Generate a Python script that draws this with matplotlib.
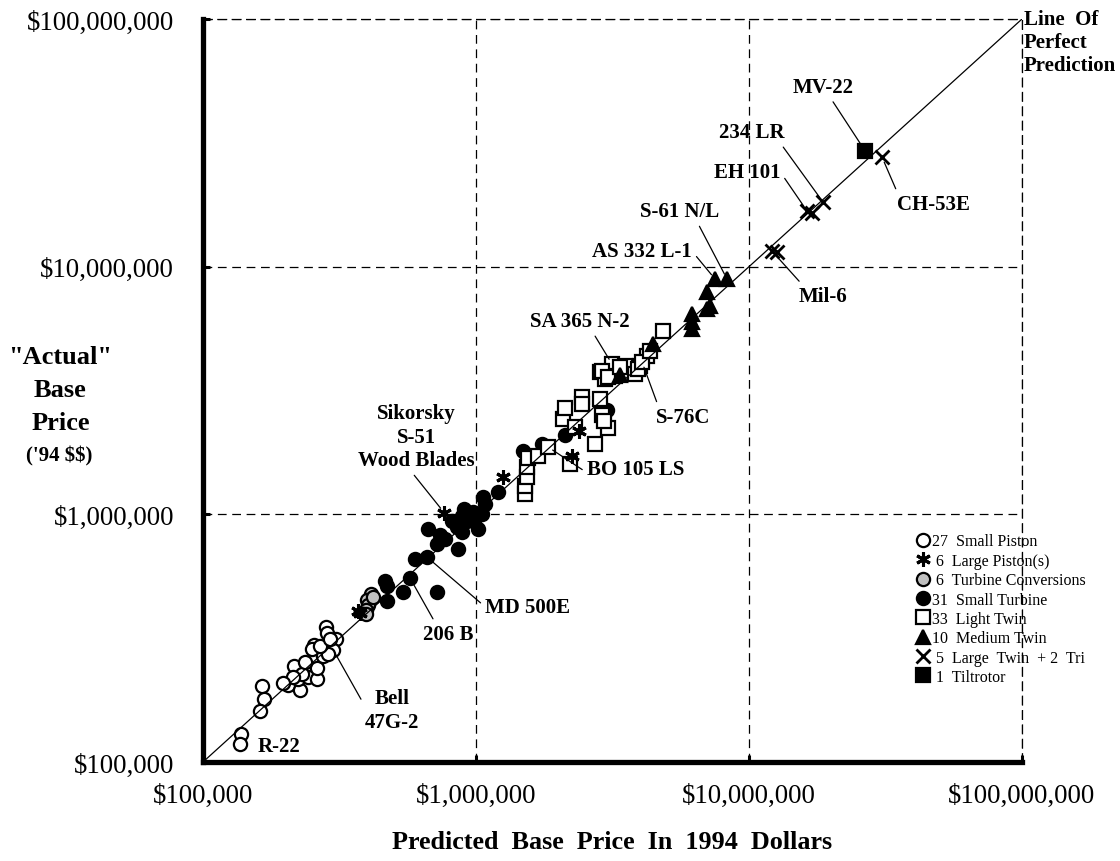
import matplotlib
matplotlib.use('Agg')
import matplotlib.pyplot as plt
from matplotlib.ticker import FixedLocator, NullLocator

plt.rcParams['font.family'] = ['Liberation Serif', 'DejaVu Serif']
plt.rcParams['text.parse_math'] = False

# predicted (x) vs "actual" (y) base price, 1994 dollars
small_piston_x = [138000, 137000, 164000, 167000, 162000, 205000, 215000, 227000, 223000,
                  241000, 243000, 261000, 261000, 254000, 250000, 276000, 282000, 284000,
                  307000, 300000, 288000, 268000, 230000, 214000, 196000, 292000, 236000]
small_piston_y = [130000, 118000, 203000, 180000, 161000, 205000, 245000, 196000, 216000,
                  237000, 220000, 216000, 240000, 298000, 286000, 269000, 351000, 332000,
                  314000, 283000, 273000, 295000, 227000, 220000, 208000, 314000, 253000]

large_piston_x = [371000, 375000, 764000, 1259000, 2384000, 2247000]
large_piston_y = [408000, 400000, 1016000, 1410000, 2169000, 1719000]

turbine_conv_x = [412000, 399000, 402000, 396000, 396000, 420000]
turbine_conv_y = [477000, 451000, 430000, 411000, 396000, 464000]

small_turbine_x = [464000, 472000, 472000, 540000, 573000, 720000, 598000, 661000, 667000,
                   720000, 770000, 859000, 889000, 889000, 927000, 975000, 1017000, 1052000,
                   1061000, 1079000, 1204000, 1486000, 1745000, 2118000, 3019000, 817000,
                   943000, 852000, 738000, 983000, 907000]
small_turbine_y = [538000, 513000, 447000, 486000, 553000, 486000, 660000, 672000, 872000,
                   759000, 795000, 724000, 848000, 984000, 940000, 1022000, 872000, 1003000,
                   1175000, 1101000, 1230000, 1801000, 1922000, 2090000, 2636000, 940000,
                   994000, 889000, 825000, 940000, 1050000]

light_twin_x = [1511000, 1511000, 1537000, 1537000, 1550000, 1687000, 1835000, 2210000,
                2083000, 2118000, 2305000, 2445000, 2445000, 2729000, 2846000, 2894000,
                3044000, 2846000, 2969000, 3149000, 3229000, 3514000, 3823000, 3987000,
                4229000, 4842000, 3920000, 4056000, 2894000, 3044000, 3369000, 4338000, 2944000]
light_twin_y = [1208000, 1301000, 1414000, 1552000, 1688000, 1719000, 1870000, 1596000,
                2424000, 2686000, 2251000, 2976000, 2788000, 1922000, 2921000, 2516000,
                2231000, 3754000, 3518000, 4045000, 3617000, 3971000, 3685000, 3971000,
                4357000, 5495000, 3861000, 4121000, 3789000, 3584000, 3933000, 4564000, 2381000]

medium_twin_x = [7508000, 8307000, 7018000, 7196000, 7018000, 6182000, 6182000, 6182000,
                 4450000, 3369000]
medium_twin_y = [8913000, 8913000, 7898000, 6933000, 6743000, 6438000, 5974000, 5599000,
                 4870000, 3651000]

large_twin_x = [12140000, 12660000, 16320000, 17010000, 18670000, 30700000]
large_twin_y = [11560000, 11460000, 16770000, 16460000, 18230000, 27700000]

tiltrotor_x = [26600000]
tiltrotor_y = [29380000]

legend_counts = ['27', ' 6', ' 6', '31', '33', '10', ' 5', ' 1']
legend_names = ['Small Piston', 'Large Piston(s)', 'Turbine Conversions', 'Small Turbine',
                'Light Twin', 'Medium Twin', 'Large  Twin  + 2  Tri', 'Tiltrotor']

decades = [1e5, 1e6, 1e7, 1e8]
tick_labels = ['$100,000', '$1,000,000', '$10,000,000', '$100,000,000']
perfect_line = [1e5, 1e8]

# label, series, index, text offset (px), leader start on text box
callouts = [
    ('R-22', 'sp', 1, (39, -2), None),
    ('Bell\n47G-2', 'sp', 19, (59, -60), (0.0, 0.58)),
    ('206 B', 'st', 4, (38, -56), (0.26, 1.0)),
    ('MD 500E', 'st', 7, (101, -50), (0.0, 0.5)),
    ('Sikorsky\nS-51\nWood Blades', 'lp', 2, (-28, 76), (0.45, 0.0)),
    ('BO 105 LS', 'lt', 6, (88, -22), (0.0, 0.3)),
    ('SA 365 N-2', 'lt', 19, (-32, 43), (0.62, 0.0)),
    ('S-76C', 'lt', 27, (41, -55), (0.05, 1.0)),
    ('AS 332 L-1', 'mt', 0, (-73, 28), (1.0, 0.5)),
    ('S-61 N/L', 'mt', 1, (-47, 68), (0.71, 0.0)),
    ('Mil-6', 'lg', 0, (51, -45), (0.1, 1.0)),
    ('EH 101', 'lg', 2, (-60, 39), (1.0, 0.5)),
    ('234 LR', 'lg', 4, (-71, 70), (0.92, 0.0)),
    ('CH-53E', 'lg', 5, (51, -47), (0.02, 1.0)),
    ('MV-22', 'tr', 0, (-42, 64), (0.61, 0.0)),
]

fig = plt.figure(figsize=(11.2, 8.62), dpi=100)
ax = fig.add_axes([0.1813, 0.1149, 0.7312, 0.8619])
ax.set_xscale('log')
ax.set_yscale('log')

ax.plot(perfect_line, perfect_line, color='black', lw=0.9, zorder=5)

ms = 9.5
mew = 1.6
h_sp, = ax.plot(small_piston_x, small_piston_y, 'o', ms=ms, mfc='white', mec='black', mew=mew, zorder=3)
h_lp, = ax.plot(large_piston_x, large_piston_y, ls='none', marker=(6, 2, 0), ms=ms + 1, mec='black', mew=2.2, zorder=4)
h_tc, = ax.plot(turbine_conv_x, turbine_conv_y, 'o', ms=ms, mfc='#c0c0c0', mec='black', mew=mew, zorder=3)
h_st, = ax.plot(small_turbine_x, small_turbine_y, 'o', ms=ms, mfc='black', mec='black', mew=mew, zorder=3)
h_lt, = ax.plot(light_twin_x, light_twin_y, 's', ms=ms, mfc='white', mec='black', mew=mew, zorder=3)
h_mt, = ax.plot(medium_twin_x, medium_twin_y, '^', ms=ms + 1, mfc='black', mec='black', mew=mew, zorder=3)
h_lg, = ax.plot(large_twin_x, large_twin_y, 'x', ms=ms, mec='black', mew=2.0, zorder=4)
h_tr, = ax.plot(tiltrotor_x, tiltrotor_y, 's', ms=ms, mfc='black', mec='black', mew=mew, zorder=4)

series = {'sp': (small_piston_x, small_piston_y), 'lp': (large_piston_x, large_piston_y),
          'st': (small_turbine_x, small_turbine_y), 'lt': (light_twin_x, light_twin_y),
          'mt': (medium_twin_x, medium_twin_y), 'lg': (large_twin_x, large_twin_y),
          'tr': (tiltrotor_x, tiltrotor_y)}

for label, key, i, off, rel in callouts:
    xs, ys = series[key]
    props = None
    if rel is not None:
        props = dict(arrowstyle='-', color='black', lw=0.9, relpos=rel, shrinkA=2, shrinkB=4)
    ax.annotate(label, xy=(xs[i], ys[i]), xytext=off, textcoords='offset pixels',
                ha='center', va='center', fontsize=15, fontweight='bold',
                linespacing=1.25, arrowprops=props, zorder=6)

ax.annotate('Line  Of\nPerfect\nPrediction', xy=(perfect_line[1], perfect_line[1]),
            xytext=(2, 10), textcoords='offset pixels', ha='left', va='top',
            fontsize=15, fontweight='bold', linespacing=1.2, annotation_clip=False)

ax.set_xlim(decades[0], decades[-1])
ax.set_ylim(decades[0], decades[-1])
ax.xaxis.set_major_locator(FixedLocator(decades))
ax.yaxis.set_major_locator(FixedLocator(decades))
ax.xaxis.set_minor_locator(NullLocator())
ax.yaxis.set_minor_locator(NullLocator())
ax.set_xticklabels(tick_labels)
ax.set_yticklabels(tick_labels)
ax.tick_params(axis='both', direction='in', length=5, width=2.2, labelsize=19.3)
ax.tick_params(axis='y', pad=21)
ax.tick_params(axis='x', pad=15)

dash = (0, (7, 4.5))
ax.grid(True, color='black', lw=0.9, ls=dash)
for side in ['left', 'bottom']:
    ax.spines[side].set_linewidth(3.8)
for side in ['top', 'right']:
    ax.spines[side].set_linewidth(0.9)
    ax.spines[side].set_linestyle(dash)

ax.set_xlabel('Predicted  Base  Price  In  1994  Dollars', fontsize=18.8,
              fontweight='bold', labelpad=16)
fig.text(0.054, 0.547, '"Actual"\nBase\nPrice', ha='center', va='center',
         fontsize=19, fontweight='bold', linespacing=1.55)
fig.text(0.053, 0.470, "('94 $$)", ha='center', va='center', fontsize=15, fontweight='bold')

labels = [c + '  ' + n for c, n in zip(legend_counts, legend_names)]
ax.legend([h_sp, h_lp, h_tc, h_st, h_lt, h_mt, h_lg, h_tr], labels,
          loc='upper left', bbox_to_anchor=(0.871, 0.3075), frameon=False,
          fontsize=11.5, handlelength=0.8, handletextpad=0.15, labelspacing=0.21,
          borderaxespad=0, borderpad=0)

fig.savefig('out.png', dpi=100)
